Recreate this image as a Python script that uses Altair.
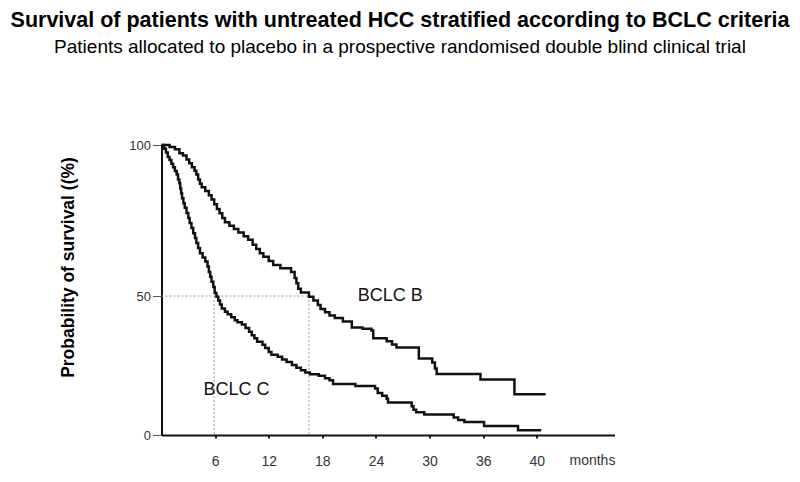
import altair as alt
import pandas as pd

# ---- data ----
# BCLC B survival steps (months, % surviving)
b_t = [0, 0.9, 1.5, 2.0, 2.4, 2.8, 3.1, 3.4, 3.7, 3.9, 4.1, 4.3, 4.5, 4.9, 5.3, 5.6, 5.9,
       6.2, 6.5, 6.8, 7.1, 7.6, 8.1, 8.6, 9.2, 9.7, 10.2, 10.6, 11.0, 11.4, 12.0, 12.5,
       13.3, 14.5, 14.9, 15.1, 15.3, 15.6, 16.5, 17.0, 17.5, 17.8, 18.3, 18.8, 19.4,
       20.3, 21.3, 22.5, 23.5, 23.7, 25.2, 25.8, 26.3, 28.8, 30.3, 30.6, 30.8, 35.7,
       39.5, 43.0]
b_v = [100, 99.3, 98.6, 97.3, 96.5, 95.2, 94.0, 92.6, 91.5, 90.2, 88.6, 87.2, 86.0, 84.8,
       83.4, 82.0, 80.4, 78.8, 77.4, 75.8, 74.4, 73.3, 72.2, 71.0, 69.8, 68.6, 67.0, 65.6,
       64.2, 63.0, 61.6, 60.3, 59.2, 58.0, 56.0, 54.2, 52.4, 51.2, 49.8, 48.5, 47.0, 45.7,
       44.6, 43.6, 42.7, 41.6, 39.6, 39.2, 38.6, 36.0, 35.0, 34.0, 33.0, 29.3, 28.0, 26.0,
       24.2, 22.4, 17.5, 17.5]

# BCLC C survival steps (months, % surviving)
c_t = [0, 0.3, 0.5, 0.7, 0.9, 1.1, 1.3, 1.5, 1.7, 1.85, 2.0, 2.1, 2.2, 2.3, 2.45, 2.6,
       2.8, 3.0, 3.15, 3.35, 3.55, 3.75, 3.9, 4.1, 4.3, 4.6, 4.9, 5.15, 5.3, 5.45, 5.6,
       5.8, 5.95, 6.15, 6.35, 6.55, 6.75, 7.1, 7.4, 7.8, 8.2, 8.5, 9.0, 9.4, 9.8, 10.1,
       10.4, 10.7, 11.3, 11.6, 12.0, 12.3, 13.0, 13.5, 14.0, 14.6, 15.1, 15.6, 16.1, 16.6,
       17.6, 18.3, 18.8, 19.2, 21.7, 23.9, 24.2, 24.7, 25.2, 25.35, 28.0, 28.2, 28.5,
       29.4, 32.7, 33.2, 33.9, 36.1, 39.9, 42.5]
c_v = [100, 98.8, 97.5, 96.0, 95.0, 93.8, 92.6, 91.4, 90.2, 88.6, 87.3, 85.6, 84.0, 82.4,
       80.7, 79.2, 77.5, 75.8, 74.2, 72.5, 70.8, 69.2, 67.6, 65.9, 64.2, 62.8, 61.4, 59.8,
       58.0, 56.4, 54.7, 53.0, 51.0, 49.8, 48.5, 47.2, 45.9, 44.8, 44.0, 43.0, 42.0, 41.3,
       40.6, 39.4, 38.2, 37.0, 36.0, 34.9, 33.9, 32.8, 31.5, 30.6, 29.9, 29.0, 28.2, 27.2,
       26.3, 25.4, 24.7, 24.1, 23.6, 22.8, 22.1, 20.9, 20.2, 19.4, 17.9, 17.0, 16.0, 14.8,
       13.5, 12.4, 11.5, 10.8, 9.8, 9.0, 8.3, 7.0, 5.6, 5.6]

median_c = 5.9
median_b = 16.5
median_level = 50

x_ticks = [6, 12, 18, 24, 30, 36, 42]
x_tick_labels = ["6", "12", "18", "24", "30", "36", "40"]
y_ticks = [4, 50, 100]
y_tick_labels = ["0", "50", "100"]

group_names = ["BCLC B", "BCLC C"]
label_x = [25.6, 8.4]
label_y = [50.0, 18.9]

title_text = "Survival of patients with untreated HCC stratified according to BCLC criteria"
subtitle_text = "Patients allocated to placebo in a prospective randomised double blind clinical trial"

# ---- tables ----
curves = pd.concat([
    pd.DataFrame({"month": b_t, "surv": b_v, "group": "BCLC B"}),
    pd.DataFrame({"month": c_t, "surv": c_v, "group": "BCLC C"}),
])
hline = pd.DataFrame({"x": [0], "x2": [median_b], "y": [median_level]})
vlines = pd.DataFrame({"x": [median_c, median_b], "y": [median_level, median_level],
                       "y2": [y_ticks[0], y_ticks[0]]})
labels = pd.DataFrame({"x": label_x, "y": label_y, "text": group_names})

x_label_expr = " : ".join(
    [f"datum.value == {v} ? '{l}'" for v, l in zip(x_ticks, x_tick_labels)]) + " : datum.label"
y_label_expr = " : ".join(
    [f"datum.value == {v} ? '{l}'" for v, l in zip(y_ticks, y_tick_labels)]) + " : datum.label"

FONT = "Liberation Sans"

xscale = alt.Scale(domain=[0, 50.7], nice=False, zero=False)
yscale = alt.Scale(domain=[4, 100], nice=False, zero=False)

xaxis = alt.Axis(values=x_ticks, labelExpr=x_label_expr, title="months",
                 titleX=407.5, titleY=25, titleAlign="left", titleBaseline="middle",
                 titleFontWeight="normal", titleFontSize=14, titleColor="#333333",
                 titleFont=FONT, labelFont=FONT, labelFontSize=14, labelColor="#333333",
                 labelPadding=16, tickSize=3, tickWidth=2, tickColor="#222222",
                 domainColor="#111111", domainWidth=2, grid=False)
yaxis = alt.Axis(values=y_ticks, labelExpr=y_label_expr,
                 title="Probability of survival ((%)", titleFont=FONT, titleFontSize=17.5,
                 titleFontWeight="bold", titleColor="#000000", titleX=-84, titleY=122,
                 labelFont=FONT, labelFontSize=13, labelColor="#333333", labelPadding=2,
                 tickSize=9, tickWidth=1, tickColor="#555555",
                 domainColor="#111111", domainWidth=2, grid=False)

ref_h = alt.Chart(hline).mark_rule(color="#999999", strokeWidth=1, strokeDash=[2, 2]).encode(
    x=alt.X("x:Q", scale=xscale, axis=xaxis), x2="x2:Q",
    y=alt.Y("y:Q", scale=yscale, axis=yaxis))
ref_v = alt.Chart(vlines).mark_rule(color="#999999", strokeWidth=1, strokeDash=[2, 2]).encode(
    x=alt.X("x:Q", scale=xscale), y=alt.Y("y:Q", scale=yscale), y2="y2:Q")

lines = alt.Chart(curves).mark_line(interpolate="step-after", color="#111111",
                                    strokeWidth=2.5, clip=False).encode(
    x=alt.X("month:Q", scale=xscale),
    y=alt.Y("surv:Q", scale=yscale),
    detail="group:N")

text = alt.Chart(labels).mark_text(font=FONT, fontSize=18, color="#111111",
                                   align="center", baseline="middle").encode(
    x=alt.X("x:Q", scale=xscale), y=alt.Y("y:Q", scale=yscale), text="text:N")

chart = alt.layer(ref_h, ref_v, lines, text).properties(
    width=453, height=290,
    title=alt.TitleParams(text=title_text, subtitle=subtitle_text, anchor="middle",
                          font=FONT, fontSize=21.5, fontWeight="bold", color="#000000",
                          subtitleFont=FONT, subtitleFontSize=19, subtitleColor="#000000",
                          subtitlePadding=7, dx=12, offset=82),
    autosize=alt.AutoSizeParams(type="none"),
    padding={"left": 153.5, "top": 137, "right": 177, "bottom": 35},
).configure_view(stroke=None)

chart.save("out.html", embed_options={"renderer": "svg", "actions": False})
